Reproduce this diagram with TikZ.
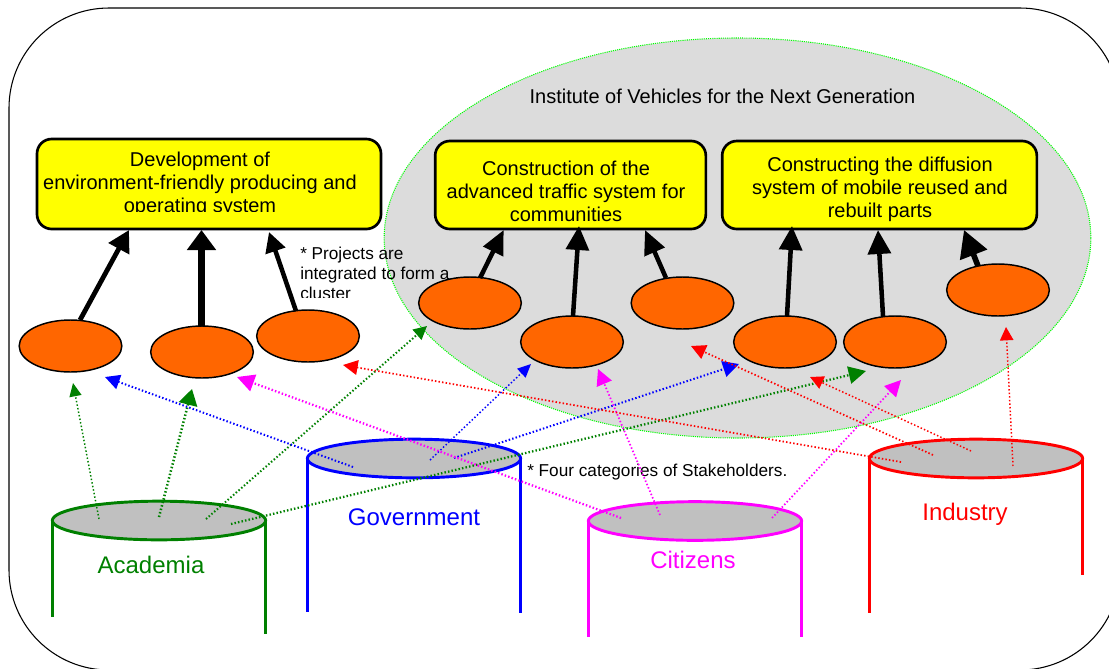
\documentclass[tikz,border=0pt]{standalone}
\usepackage{fontspec}
\setmainfont{Liberation Sans}
\usetikzlibrary{arrows.meta,shapes.geometric}
\definecolor{ovalfill}{HTML}{FF6600}
\definecolor{halo}{HTML}{DCDCDC}
\definecolor{capfill}{HTML}{C0C0C0}
\definecolor{acgreen}{HTML}{008000}
\definecolor{pureblue}{HTML}{0000FF}
\definecolor{puremag}{HTML}{FF00FF}
\definecolor{purered}{HTML}{FF0000}
\definecolor{pureyel}{HTML}{FFFF00}
\definecolor{purelime}{HTML}{00FF00}
\tikzset{
  x=0.75pt,y=-0.75pt,
  oval/.style={draw=black,fill=ovalfill,ellipse,inner sep=0pt,outer sep=0pt,minimum width=77pt,minimum height=39pt,line width=1.1pt},
  goal/.style={draw=black,fill=pureyel,rectangle,rounded corners=11pt,line width=2pt,inner sep=0pt,outer sep=0pt},
  cap/.style={draw=#1,fill=capfill,ellipse,inner sep=0pt,outer sep=0pt,minimum width=160pt,minimum height=29pt,line width=2.2pt},
  leg/.style={draw=#1,line width=2.2pt},
  boxtext/.style={font=\fontsize{15pt}{17.3pt}\selectfont,align=center,inner sep=0pt},
  boxtextb/.style={font=\fontsize{15pt}{17.3pt}\selectfont,align=center,inner sep=0pt},
  note/.style={font=\fontsize{12.9pt}{15pt}\selectfont,align=left,inner sep=0pt,anchor=west},
  who/.style={font=\fontsize{18pt}{20pt}\selectfont,text=#1,inner sep=0pt},
  blk/.style n args={3}{draw=black,line width=#1,-{Triangle[length=#2,width=#3,fill=black]}},
  dot/.style n args={4}{draw=#1,line width=#2,dash pattern=on 1.1pt off 1.6pt,-{Triangle[length=#3,width=#4,fill=#1]}},
}
\begin{document}
\begin{tikzpicture}
\useasboundingbox (0,0) rectangle (1109,668);
\clip (0,0) rectangle (1109,668);
% outer frame
\draw[black,line width=0.8pt,rounded corners=75pt] (9,8) rectangle (1120,670);
% institute halo
\node[draw=purelime,fill=halo,ellipse,inner sep=0pt,outer sep=0pt,minimum width=530pt,minimum height=300pt,line width=0.8pt,dash pattern=on 0.8pt off 0.8pt] (inst) at (737.5,238) {};
% goals
\node[goal,minimum width=258pt,minimum height=67.5pt] (b1) at (209,184) {};
\node[goal,minimum width=203pt,minimum height=66pt] (b2) at (570.5,185) {};
\node[goal,minimum width=236pt,minimum height=66pt] (b3) at (879.5,185) {};
% projects
\node[oval] (o1) at (70.5,346) {};
\node[oval] (o2) at (202,352) {};
\node[oval] (o3) at (308,336) {};
\node[oval] (o4) at (470,303) {};
\node[oval] (o5) at (572,342) {};
\node[oval] (o6) at (682.5,303) {};
\node[oval] (o7) at (785,342) {};
\node[oval] (o8) at (895,342) {};
\node[oval] (o9) at (998,290) {};
% project to goal
\draw[blk={3.6pt}{16pt}{17pt}] ([shift={(9.5,-26)}]o1.center) -- ([shift={(-80,46)}]b1.center);
\draw[blk={5.2pt}{15pt}{21pt}] ([shift={(-0.5,-26)}]o2.center) -- ([shift={(-7.5,46)}]b1.center);
\draw[blk={3.4pt}{15pt}{15pt}] ([shift={(-12,-25)}]o3.center) -- ([shift={(60,48)}]b1.center);
\draw[blk={3.4pt}{18pt}{16pt}] ([shift={(10,-25)}]o4.center) -- ([shift={(-66.8,45)}]b2.center);
\draw[blk={3.4pt}{18pt}{17pt}] ([shift={(1,-26)}]o5.center) -- ([shift={(8.5,41)}]b2.center);
\draw[blk={3.4pt}{18pt}{16pt}] ([shift={(-16.5,-25)}]o6.center) -- ([shift={(74.5,45)}]b2.center);
\draw[blk={3.4pt}{18pt}{17pt}] ([shift={(2,-26)}]o7.center) -- ([shift={(-87.5,41)}]b3.center);
\draw[blk={3.4pt}{18pt}{17pt}] ([shift={(-12,-26)}]o8.center) -- ([shift={(-1.5,45)}]b3.center);
\draw[blk={4.2pt}{20pt}{21pt}] ([shift={(-20,-24)}]o9.center) -- ([shift={(84.5,45)}]b3.center);
% goal text
\begin{scope}
\clip (40,142) rectangle (378,211);
\node[boxtext] (t1) at (200,184.5) {Development of\\environment-friendly producing and\\operating system};
\end{scope}
\node[boxtextb] (t2) at (566,191) {Construction of the\\advanced traffic system for\\communities};
\node[boxtextb] (t3) at (880,189) {Constructing the diffusion\\system of mobile reused and\\rebuilt parts};
\node[font=\fontsize{15pt}{17pt}\selectfont,inner sep=0pt] (t4) at (722.5,96) {Institute of Vehicles for the Next Generation};
\begin{scope}
\clip (295,240) rectangle (480,297);
\node[note] (n1) at (300,273) {* Projects are\\integrated to form a\\cluster};
\end{scope}
\node[note] (n2) at (527,472) {* Four categories of Stakeholders.};
% stakeholders
\node[cap=acgreen] (ca) at (159,520.5) {};
\node[cap=pureblue] (cg) at (414,458.5) {};
\node[cap=puremag] (cc) at (695,521) {};
\node[cap=purered] (ci) at (976,458.5) {};
\draw[leg=acgreen] (ca.west) -- ++(0,96.5);
\draw[leg=acgreen] (ca.east) -- ++(0,113.5);
\draw[leg=pureblue] (cg.west) -- ++(0,153.5);
\draw[leg=pureblue] (cg.east) -- ++(0,154.5);
\draw[leg=puremag] (cc.west) -- ++(0,116);
\draw[leg=puremag] (cc.east) -- ++(0,116);
\draw[leg=purered] (ci.west) -- ++(0,154);
\draw[leg=purered] (ci.east) -- ++(0,116.5);
\node[who=acgreen] (la) at (151,565) {Academia};
\node[who=pureblue] (lg) at (414,517) {Government};
\node[who=puremag] (lc) at (693,560) {Citizens};
\node[who=purered] (li) at (965,514) {Industry};
% stakeholder to project
\draw[dot={acgreen}{1.1pt}{10pt}{9pt}] ([shift={(-60,-1.5)}]ca.center) -- ([shift={(2.5,37)}]o1.center);
\draw[dot={acgreen}{1.9pt}{12pt}{14pt}] ([shift={(0,-3.5)}]ca.center) -- ([shift={(-10,37)}]o2.center);
\draw[dot={acgreen}{1.5pt}{10pt}{10pt}] ([shift={(47,-1.5)}]ca.center) -- ([shift={(-43,23)}]o4.center);
\draw[dot={acgreen}{1.7pt}{13pt}{13pt}] ([shift={(72,3.5)}]ca.center) -- ([shift={(-29,29)}]o8.center);
\draw[dot={pureblue}{1.5pt}{11pt}{11pt}] ([shift={(-61,8.5)}]cg.center) -- ([shift={(34.5,31)}]o1.center);
\draw[dot={pureblue}{1.1pt}{10pt}{9pt}] ([shift={(16,1.5)}]cg.center) -- ([shift={(-41,22)}]o5.center);
\draw[dot={pureblue}{1.5pt}{12pt}{12pt}] ([shift={(40,-0.5)}]cg.center) -- ([shift={(-46,22)}]o7.center);
\draw[dot={puremag}{1.7pt}{13pt}{13pt}] ([shift={(-74,-3)}]cc.center) -- ([shift={(35,25)}]o2.center);
\draw[dot={puremag}{1.3pt}{12pt}{12pt}] ([shift={(-35,-6)}]cc.center) -- ([shift={(26,27)}]o5.center);
\draw[dot={puremag}{1.3pt}{12pt}{12pt}] ([shift={(77,-3)}]cc.center) -- ([shift={(6,38)}]o8.center);
\draw[dot={purered}{1.3pt}{11pt}{11pt}] ([shift={(-75,3.5)}]ci.center) -- ([shift={(35,29)}]o3.center);
\draw[dot={purered}{1.3pt}{11pt}{11pt}] ([shift={(-43,-3.5)}]ci.center) -- ([shift={(8.5,43)}]o6.center);
\draw[dot={purered}{1.1pt}{10pt}{10pt}] ([shift={(-5,-7.5)}]ci.center) -- ([shift={(25,35)}]o7.center);
\draw[dot={purered}{1.1pt}{10pt}{10pt}] ([shift={(37,7.5)}]ci.center) -- ([shift={(8,37)}]o9.center);
\end{tikzpicture}
\end{document}
